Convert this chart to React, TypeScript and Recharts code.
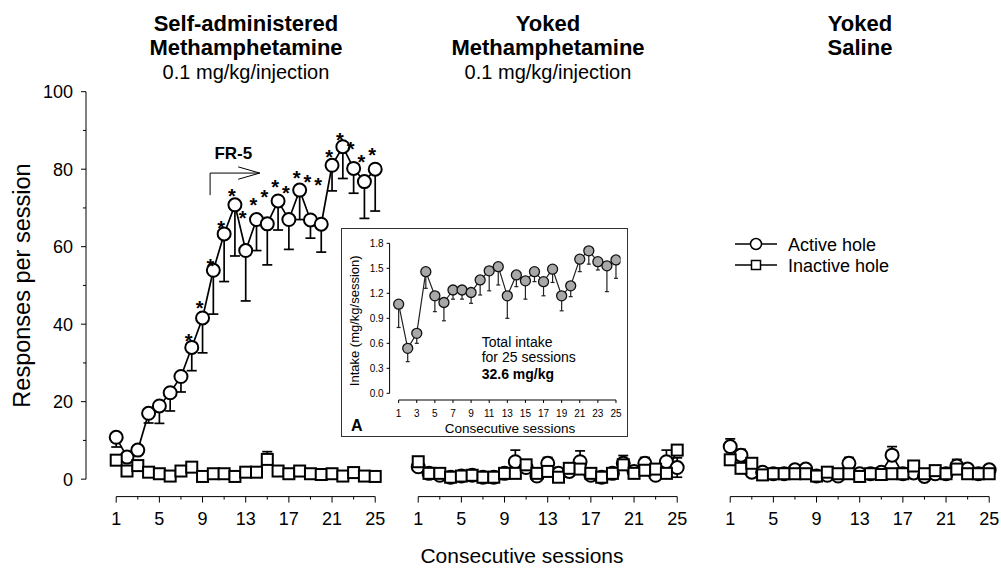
import React from "react"
import { ComposedChart, Line, XAxis, YAxis, ErrorBar, ReferenceLine, ReferenceDot } from "recharts"

const FONT = '"Liberation Sans", Arial, Helvetica, sans-serif'

const sessions = [1, 2, 3, 4, 5, 6, 7, 8, 9, 10, 11, 12, 13, 14, 15, 16, 17, 18, 19, 20, 21, 22, 23, 24, 25]
const xTicks = [1, 3, 5, 7, 9, 11, 13, 15, 17, 19, 21, 23, 25]
const xLabels = [1, 5, 9, 13, 17, 21, 25]
const yTicks = [0, 10, 20, 30, 40, 50, 60, 70, 80, 90, 100]
const yLabels = [0, 20, 40, 60, 80, 100]

// self-administered methamphetamine
const saActive = [10.8, 5.7, 7.5, 17, 18.9, 22.3, 26.5, 34, 41.6, 53.9, 63.3, 70.8, 59, 67, 65.9, 71.8, 67, 74.6, 66.9, 65.8, 81, 85.8, 80.2, 76.8, 80]
const saActiveSemDown = [2.5, 0, 0, 2.5, 4.5, 4.7, 4, 6, 9, 11.3, 12.3, 13.2, 13, 8, 10.6, 7.5, 7.7, 7.6, 4.7, 7.2, 6.6, 8.2, 6.4, 9.5, 10.8]
const saActiveSemUp = [0, 0, 0, 0, 0, 0, 0, 0, 0, 0, 0, 0, 0, 0, 0, 0, 0, 0, 0, 0, 0, 0, 0, 0, 0]
const saInactive = [4.9, 2.1, 3.5, 1.8, 1.4, 0.8, 2.1, 3.1, 0.7, 1.4, 1.4, 0.7, 1.8, 1.8, 5.1, 2.1, 1.4, 2.1, 1.4, 1.2, 1.4, 0.8, 1.7, 0.8, 0.7]
const saInactiveSemUp = [0, 0, 0, 0, 0, 0, 0, 0, 0, 0, 0, 0, 0, 0, 2, 0, 0, 0, 0, 0, 0, 0, 0, 0, 0]
// height of the significance asterisks
const saStars = [null, null, null, null, null, null, null, 36.7, 45.4, 56.1, 66, 74.2, 68.6, 72, 73.9, 76.6, 75.1, 78.9, 77.8, 77.2, 84.3, 88.8, 86.5, 83.1, 84.8]

// yoked methamphetamine
const ymActive = [3.2, 1.5, 1, 0.5, 0.8, 1, 0.5, 0.5, 1.5, 4.5, 3, 0.8, 4.1, 1.5, 2, 4.5, 1, 0.5, 1.5, 4.1, 2, 4.1, 1, 4.5, 3]
const ymActiveSemDown = [0, 0, 0, 0, 0, 0, 0, 0, 0, 0, 0, 0, 0, 0, 0, 0, 0, 0, 0, 0, 0, 0, 0, 0, 2.5]
const ymActiveSemUp = [0, 0, 0, 0, 0, 0, 0, 0, 0, 3, 0, 0, 1.5, 0, 0, 2.8, 0, 0, 0, 2, 0, 1.5, 0, 3, 2.5]
const ymInactive = [4.5, 1.5, 1.5, 0.5, 0.8, 1, 0.5, 0.5, 1.5, 1.5, 3.7, 1.5, 2, 0.5, 2.8, 2.6, 1.5, 0.5, 1.5, 3.7, 1.5, 2.3, 2.6, 1.5, 7.5]
const ymInactiveSemUp = [0, 0, 0, 0, 0, 0, 0, 0, 0, 0, 0, 0, 0, 0, 0, 0, 0, 0, 0, 0, 0, 0, 0, 0, 0]

// yoked saline
const ysActive = [8.4, 6.2, 1.8, 1.8, 1.4, 1.4, 2.4, 2.6, 0.8, 1, 0.8, 4.1, 1.4, 1.4, 1.8, 6.2, 1.4, 1.6, 0.7, 1.4, 1.4, 3.4, 2.6, 1.4, 2.4]
const ysActiveSemDown = [0, 0, 0, 0, 0, 0, 0, 0, 0, 0, 0, 0, 0, 0, 0, 0, 0, 0, 0, 0, 0, 0, 0, 0, 0]
const ysActiveSemUp = [2, 1.5, 0, 0, 0, 0, 0, 0, 0, 0, 0, 1.5, 0, 0, 0, 2.2, 0, 0, 0, 0, 0, 1.7, 0, 0, 0]
const ysInactive = [5, 2.8, 4.1, 1.1, 1.4, 1.4, 1.4, 1.4, 0.8, 1.8, 1.4, 1.4, 0.7, 1.4, 1.2, 1.4, 1.4, 3.4, 1.4, 2.2, 1.4, 2.6, 1.4, 1.4, 1.4]
const ysInactiveSemUp = [0, 0, 0, 0, 0, 0, 0, 0, 0, 0, 0, 0, 0, 0, 0, 0, 0, 0, 0, 0, 0, 0, 0, 0, 0]

// inset A: intake (mg/kg/session)
const intake = [1.07, 0.54, 0.72, 1.46, 1.17, 1.09, 1.24, 1.24, 1.21, 1.36, 1.47, 1.52, 1.17, 1.42, 1.35, 1.46, 1.34, 1.49, 1.17, 1.29, 1.61, 1.71, 1.58, 1.53, 1.6]
const intakeSem = [0.28, 0.16, 0.12, 0.2, 0.19, 0.22, 0.11, 0.11, 0.13, 0.18, 0.24, 0.22, 0.27, 0.14, 0.22, 0.12, 0.17, 0.16, 0.18, 0.13, 0.15, 0.16, 0.1, 0.31, 0.22]
const insetXTicks = [1, 3, 5, 7, 9, 11, 13, 15, 17, 19, 21, 23, 25]
const insetYTicks = [0, 0.3, 0.6, 0.9, 1.2, 1.5, 1.8]

const X_DOMAIN = [-1.8, 26]
const Y_MIN = -4.5
const PLOT_TOP = 91.7
const PLOT_BOTTOM = 496.6
const H = 572

const buildRows = (active: number[], aDown: number[], aUp: number[], inactive: number[], iUp: number[], stars?: (number | null)[]) =>
  sessions.map((s, i) => ({
    session: s,
    active: active[i],
    aErr: [aDown[i], aUp[i]],
    inactive: inactive[i],
    iErr: [0, iUp[i]],
    star: stars ? stars[i] : null,
  }))

const saRows = buildRows(saActive, saActiveSemDown, saActiveSemUp, saInactive, saInactiveSemUp, saStars)
const ymRows = buildRows(ymActive, ymActiveSemDown, ymActiveSemUp, ymInactive, ymInactiveSemUp)
const ysRows = buildRows(ysActive, ysActiveSemDown, ysActiveSemUp, ysInactive, ysInactiveSemUp)
const insetRows = sessions.map((s, i) => ({ session: s, intake: intake[i], err: [intakeSem[i], 0] }))

const XTick = (p: any) => {
  const v = p.payload.value
  const major = xLabels.includes(v)
  return (
    <g>
      <line x1={p.x} x2={p.x} y1={p.y} y2={p.y + (major ? 6 : 3)} stroke="#000" strokeWidth={1} />
      {major && (
        <text x={p.x} y={p.y + 28} textAnchor="middle" fontSize={18} fontFamily={FONT} fill="#000">
          {v}
        </text>
      )}
    </g>
  )
}

const YTick = (p: any) => {
  const v = p.payload.value
  const major = yLabels.includes(v)
  return (
    <g>
      <line x1={p.x - (major ? 5 : 3)} x2={p.x} y1={p.y} y2={p.y} stroke="#000" strokeWidth={1} />
      {major && (
        <text x={p.x - 13} y={p.y + 6.5} textAnchor="end" fontSize={18} fontFamily={FONT} fill="#000">
          {v}
        </text>
      )}
    </g>
  )
}

const InsetXTick = (p: any) => (
  <g>
    <line x1={p.x} x2={p.x} y1={p.y} y2={p.y + 3} stroke="#000" strokeWidth={1} />
    <text x={p.x} y={p.y + 17} textAnchor="middle" fontSize={10} fontFamily={FONT} fill="#000">
      {p.payload.value}
    </text>
  </g>
)

const InsetYTick = (p: any) => (
  <g>
    <line x1={p.x - 3} x2={p.x} y1={p.y} y2={p.y} stroke="#000" strokeWidth={1} />
    <text x={p.x - 6} y={p.y + 3.5} textAnchor="end" fontSize={10} fontFamily={FONT} fill="#000">
      {p.payload.value.toFixed(1)}
    </text>
  </g>
)

const circleDot = (p: any) => (
  <circle key={`c${p.index}`} cx={p.cx} cy={p.cy} r={6.5} fill="#fff" stroke="#000" strokeWidth={2} />
)

const squareDot = (p: any) => (
  <rect key={`s${p.index}`} x={p.cx - 5.5} y={p.cy - 5.5} width={11} height={11} fill="#fff" stroke="#000" strokeWidth={2} />
)

const starDot = (p: any) => {
  if (p.value == null || p.cy == null) return <g key={`st${p.index}`} />
  return (
    <text key={`st${p.index}`} x={p.cx - 3} y={p.cy + 11.5} textAnchor="middle" fontSize={20} fontWeight="bold" fontFamily={FONT} fill="#000">
      *
    </text>
  )
}

const grayDot = (p: any) => (
  <circle key={`g${p.index}`} cx={p.cx} cy={p.cy} r={5} fill="#a8a8a8" stroke="#111" strokeWidth={1.3} />
)

function Panel({ rows, left, width, ml, mr, showY, extra }: any) {
  return (
    <div style={{ position: "absolute", left, top: 0 }}>
      <ComposedChart
        width={width}
        height={H}
        data={rows}
        margin={{ top: PLOT_TOP, right: mr, left: ml, bottom: H - PLOT_BOTTOM - 30 }}
      >
        <XAxis
          dataKey="session"
          type="number"
          domain={X_DOMAIN}
          ticks={xTicks}
          interval={0}
          height={30}
          tickSize={0}
          tickMargin={0}
          axisLine={false}
          tick={XTick}
          allowDataOverflow
        />
        <YAxis
          type="number"
          domain={[Y_MIN, 100]}
          ticks={yTicks}
          interval={0}
          width={60}
          hide={!showY}
          tickSize={0}
          tickMargin={0}
          axisLine={false}
          tick={YTick}
          allowDataOverflow
        />
        <ReferenceLine segment={[{ x: 1, y: Y_MIN }, { x: 25, y: Y_MIN }]} stroke="#000" strokeWidth={1} ifOverflow="visible" />
        {showY && (
          <ReferenceLine segment={[{ x: X_DOMAIN[0], y: 0 }, { x: X_DOMAIN[0], y: 100 }]} stroke="#000" strokeWidth={1} ifOverflow="visible" />
        )}
        <Line dataKey="active" stroke="#000" strokeWidth={1.7} dot={circleDot} activeDot={false} isAnimationActive={false}>
          <ErrorBar dataKey="aErr" width={5} stroke="#000" strokeWidth={1.7} direction="y" />
        </Line>
        <Line dataKey="inactive" stroke="#000" strokeWidth={1.7} dot={squareDot} activeDot={false} isAnimationActive={false}>
          <ErrorBar dataKey="iErr" width={5} stroke="#000" strokeWidth={1.7} direction="y" />
        </Line>
        {extra}
      </ComposedChart>
    </div>
  )
}

export default function App() {
  const fr5 = [
    <Line key="stars" dataKey="star" stroke="none" dot={starDot} activeDot={false} isAnimationActive={false} />,
    <ReferenceLine key="a1" segment={[{ x: 9.7, y: 73.3 }, { x: 9.7, y: 79 }]} stroke="#000" strokeWidth={1} ifOverflow="visible" />,
    <ReferenceLine key="a2" segment={[{ x: 9.7, y: 79 }, { x: 14.3, y: 79 }]} stroke="#000" strokeWidth={1} ifOverflow="visible" />,
    <ReferenceLine key="a3" segment={[{ x: 12.3, y: 80.6 }, { x: 14.3, y: 79 }]} stroke="#000" strokeWidth={1} ifOverflow="visible" />,
    <ReferenceLine key="a4" segment={[{ x: 12.3, y: 77.4 }, { x: 14.3, y: 79 }]} stroke="#000" strokeWidth={1} ifOverflow="visible" />,
    <ReferenceDot
      key="fr"
      x={11.85}
      y={84.3}
      r={0}
      ifOverflow="visible"
      label={{ value: "FR-5", position: "center", fontSize: 17, fontWeight: "bold", fill: "#000", fontFamily: FONT }}
    />,
  ]

  const titleBold = { fontSize: 22, fontWeight: "bold" as const, fontFamily: FONT, textAnchor: "middle" as const }
  const titleReg = { fontSize: 20, fontFamily: FONT, textAnchor: "middle" as const }

  return (
    <div style={{ position: "absolute", left: 0, top: 0, width: 1001, height: 572, background: "#fff", fontFamily: FONT }}>
      <Panel rows={saRows} left={0} width={400} ml={26} mr={14} showY extra={fr5} />
      <Panel rows={ymRows} left={378} width={320} ml={10} mr={10} />
      <Panel rows={ysRows} left={690} width={311} ml={10} mr={1} />

      {/* inset A */}
      <div
        style={{
          position: "absolute",
          left: 341,
          top: 228,
          width: 287,
          height: 209,
          border: "1px solid #333",
          boxSizing: "border-box",
          background: "#fff",
        }}
      />
      <div style={{ position: "absolute", left: 341, top: 228 }}>
        <ComposedChart width={286} height={209} data={insetRows} margin={{ top: 15.3, right: 6.5, left: 8.6, bottom: 17 }}>
          <XAxis
            dataKey="session"
            type="number"
            domain={[0, 25.5]}
            ticks={insetXTicks}
            interval={0}
            height={20}
            tickSize={0}
            tickMargin={0}
            axisLine={false}
            tick={InsetXTick}
            allowDataOverflow
          />
          <YAxis
            type="number"
            domain={[-0.08, 1.8]}
            ticks={insetYTicks}
            interval={0}
            width={40}
            tickSize={0}
            tickMargin={0}
            axisLine={false}
            tick={InsetYTick}
            allowDataOverflow
          />
          <ReferenceLine segment={[{ x: 1, y: -0.08 }, { x: 25, y: -0.08 }]} stroke="#000" strokeWidth={1} ifOverflow="visible" />
          <ReferenceLine segment={[{ x: 0, y: 0 }, { x: 0, y: 1.8 }]} stroke="#000" strokeWidth={1} ifOverflow="visible" />
          <Line dataKey="intake" stroke="#222" strokeWidth={1.2} dot={grayDot} activeDot={false} isAnimationActive={false}>
            <ErrorBar dataKey="err" width={2} stroke="#222" strokeWidth={1.2} direction="y" />
          </Line>
        </ComposedChart>
      </div>

      <svg width={1001} height={572} style={{ position: "absolute", left: 0, top: 0, pointerEvents: "none" }}>
        {/* panel titles */}
        <text x={246} y={30.5} {...titleBold}>Self-administered</text>
        <text x={246} y={54.5} {...titleBold}>Methamphetamine</text>
        <text x={246} y={79} {...titleReg}>0.1 mg/kg/injection</text>
        <text x={548} y={30.5} {...titleBold}>Yoked</text>
        <text x={548} y={54.5} {...titleBold}>Methamphetamine</text>
        <text x={548} y={79} {...titleReg}>0.1 mg/kg/injection</text>
        <text x={860} y={30.5} {...titleBold}>Yoked</text>
        <text x={860} y={54.5} {...titleBold}>Saline</text>

        {/* axis titles */}
        <text x={21.7} y={285.5} transform="rotate(-90 21.7 285.5)" dy={8.5} fontSize={23.5} textAnchor="middle" fontFamily={FONT}>
          Responses per session
        </text>
        <text x={522} y={563} fontSize={21} textAnchor="middle" fontFamily={FONT}>
          Consecutive sessions
        </text>

        {/* legend */}
        <line x1={735} x2={777} y1={244} y2={244} stroke="#000" strokeWidth={1.5} />
        <circle cx={756} cy={244} r={5.5} fill="#fff" stroke="#000" strokeWidth={1.5} />
        <text x={788} y={250.5} fontSize={18} fontFamily={FONT}>Active hole</text>
        <line x1={735} x2={777} y1={265} y2={265} stroke="#000" strokeWidth={1.5} />
        <rect x={751.5} y={260.5} width={9} height={9} fill="#fff" stroke="#000" strokeWidth={1.5} />
        <text x={788} y={271.5} fontSize={18} fontFamily={FONT}>Inactive hole</text>

        {/* inset texts */}
        <text x={355} y={320.8} transform="rotate(-90 355 320.8)" dy={4.5} fontSize={13} textAnchor="middle" fontFamily={FONT}>
          Intake (mg/kg/session)
        </text>
        <text x={510} y={433} fontSize={13.5} textAnchor="middle" fontFamily={FONT}>
          Consecutive sessions
        </text>
        <text x={481.7} y={346.7} fontSize={14} fontFamily={FONT}>Total intake</text>
        <text x={481.7} y={362} fontSize={14} fontFamily={FONT}>for 25 sessions</text>
        <text x={481.7} y={379} fontSize={14} fontWeight="bold" fontFamily={FONT}>32.6 mg/kg</text>
        <text x={356.7} y={430.7} fontSize={16} fontWeight="bold" textAnchor="middle" fontFamily={FONT}>A</text>
      </svg>
    </div>
  )
}
